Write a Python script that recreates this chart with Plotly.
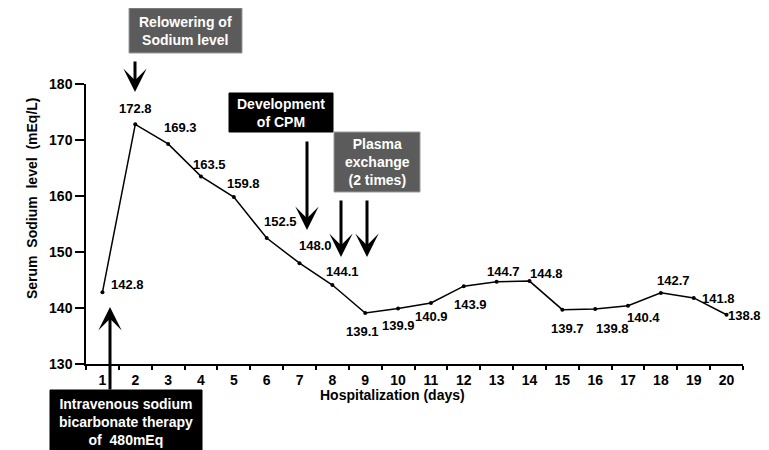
import plotly.graph_objects as go

days = [str(d) for d in range(1, 21)]
sodium = [142.8, 172.8, 169.3, 163.5, 159.8, 152.5, 148.0, 144.1, 139.1, 139.9,
          140.9, 143.9, 144.7, 144.8, 139.7, 139.8, 140.4, 142.7, 141.8, 138.8]
label_text = ["142.8", "172.8", "169.3", "163.5", "159.8", "152.5", "148.0", "144.1", "139.1", "139.9",
              "140.9", "143.9", "144.7", "144.8", "139.7", "139.8", "140.4", "142.7", "141.8", "138.8"]
y_ticks = [130, 140, 150, 160, 170, 180]

# label offsets in pixels (dx, dy up positive)
label_dx = [25, 0, 12, 9, 10, 14, 16, 10, -3, 0, 1, 7, 7, 17, 5, 17, 15, 13, 25, 18]
label_dy = [8, 16, 16, 12, 14, 17, 18, 14, -18, -17, -14, -18, 10, 8, -19, -19, -12, 12, -1, -1]

OFF = 8  # page body margin
W, H = 769 - OFF, 450 - OFF
L, R, T, B = 86 - OFF, 26, 84 - OFF, 86
PW = W - L - R
PH = H - T - B


def px(x):
    return (x - OFF - L) / PW


def py(y):
    return (H - B - (y - OFF)) / PH


FONT = "Liberation Sans, Arial, sans-serif"

fig = go.Figure()
fig.add_trace(go.Scatter(
    x=days, y=sodium, mode="lines+markers",
    line=dict(color="black", width=1.5),
    marker=dict(color="black", size=4),
    hoverinfo="skip", showlegend=False,
))

annotations = []
for i, (v, t, dx, dy) in enumerate(zip(sodium, label_text, label_dx, label_dy)):
    annotations.append(dict(
        x=i, y=v, xref="x", yref="y", text="<b>%s</b>" % t, showarrow=False,
        xshift=dx, yshift=dy, borderpad=0, font=dict(family=FONT, size=13, color="black"),
    ))

shapes = []
boxes = [
    (129, 242, 8, 53, "#5b5b5b", "Relowering of<br>Sodium level"),
    (229, 333, 93, 132, "#000000", "Development<br>of CPM"),
    (334, 420, 132, 192, "#5b5b5b", "Plasma<br>exchange<br>(2 times)"),
    (50, 202, 390, 455, "#000000", "Intravenous sodium<br>bicarbonate therapy<br>of  480mEq"),
]
for x0, x1, y0, y1, col, txt in boxes:
    shapes.append(dict(type="rect", xref="paper", yref="paper",
                       x0=px(x0), x1=px(x1), y0=py(y1), y1=py(y0),
                       fillcolor=col, line=dict(color="#9a9a9a" if col != "#000000" else "black", width=1),
                       layer="above"))
    annotations.append(dict(
        x=px((x0 + x1) / 2), y=py((y0 + min(y1, 454)) / 2), xref="paper", yref="paper",
        text="<b>%s</b>" % txt, showarrow=False, xanchor="center", yanchor="middle",
        font=dict(family=FONT, size=14, color="white"),
    ))

# arrows: tip (x, y), tail offset
arrows = [
    (135, 92, 0, -32),
    (110, 307, 0, 84),
    (307, 230, 0, -90),
    (341, 257, 0, -58),
    (367, 257, 0, -58),
]
for x, y, ax, ay in arrows:
    annotations.append(dict(
        x=px(x), y=py(y), xref="paper", yref="paper", text="", showarrow=True,
        ax=ax, ay=ay, arrowhead=3, arrowsize=1.3, arrowwidth=3, arrowcolor="black", standoff=0,
    ))

annotations.append(dict(
    x=px(392), y=py(405), xref="paper", yref="paper",
    text="<b>Hospitalization (days)</b>", showarrow=False,
    font=dict(family=FONT, size=14, color="black"),
))
annotations.append(dict(
    x=px(22), y=py(199), xref="paper", yref="paper", textangle=-90,
    text="<b>Serum  Sodium  level  (mEq/L)</b>", showarrow=False,
    font=dict(family=FONT, size=14, color="black"),
))

fig.update_layout(
    width=W, height=H, autosize=False,
    margin=dict(l=L, r=R, t=T, b=B),
    paper_bgcolor="white", plot_bgcolor="white",
    font=dict(family=FONT, size=14, color="black"),
    shapes=shapes, annotations=annotations,
    xaxis=dict(type="category", range=[-0.5, 19.5], showline=True, linecolor="black", linewidth=1.5,
               ticks="outside", ticklen=4, tickwidth=1.5, tickcolor="black", tickson="boundaries",
               showgrid=False, zeroline=False, tickfont=dict(family=FONT, size=14, color="black"),
               ticklabelstandoff=2),
    yaxis=dict(range=[130, 180], tickvals=y_ticks, ticktext=["<b>%d</b>" % v for v in y_ticks],
               showline=True, linecolor="black", linewidth=1.5,
               ticks="outside", ticklen=9, tickwidth=1.5, tickcolor="black",
               showgrid=False, zeroline=False, tickfont=dict(family=FONT, size=14, color="black")),
)
fig.update_xaxes(tickvals=days, ticktext=["<b>%s</b>" % d for d in days])

fig.write_html("out.html")
